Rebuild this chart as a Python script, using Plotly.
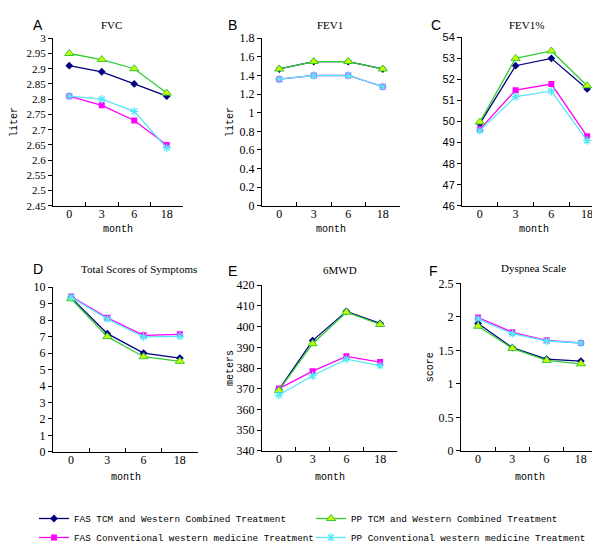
import plotly.graph_objects as go

months = ["0", "3", "6", "18"]

series_names = [
    "FAS TCM and Western Combined Treatment",
    "FAS Conventional western medicine Treatment",
    "PP TCM and Western Combined Treatment",
    "PP Conventional western medicine Treatment",
]

# Panel A: FVC (liter)
fvc_fas_tcm = [2.91, 2.89, 2.85, 2.81]
fvc_fas_conv = [2.81, 2.78, 2.73, 2.65]
fvc_pp_tcm = [2.95, 2.93, 2.90, 2.82]
fvc_pp_conv = [2.81, 2.80, 2.76, 2.64]

# Panel B: FEV1 (liter)
fev1_fas_tcm = [1.47, 1.55, 1.55, 1.47]
fev1_fas_conv = [1.36, 1.40, 1.40, 1.28]
fev1_pp_tcm = [1.47, 1.55, 1.55, 1.47]
fev1_pp_conv = [1.36, 1.40, 1.40, 1.28]

# Panel C: FEV1%
fev1p_fas_tcm = [49.9, 52.65, 53.0, 51.55]
fev1p_fas_conv = [49.63, 51.49, 51.78, 49.3]
fev1p_pp_tcm = [49.98, 53.0, 53.35, 51.7]
fev1p_pp_conv = [49.57, 51.18, 51.44, 49.1]

# Panel D: Total Scores of Symptoms
tss_fas_tcm = [9.37, 7.18, 6.0, 5.7]
tss_fas_conv = [9.43, 8.14, 7.08, 7.14]
tss_pp_tcm = [9.3, 7.0, 5.78, 5.5]
tss_pp_conv = [9.39, 8.08, 6.98, 7.02]

# Panel E: 6MWD (meters)
mwd_fas_tcm = [369.6, 393.3, 407.4, 401.6]
mwd_fas_conv = [370.1, 378.5, 385.7, 382.9]
mwd_pp_tcm = [369.2, 391.8, 407.0, 401.1]
mwd_pp_conv = [367.0, 376.3, 384.3, 381.2]

# Panel F: Dyspnea Scale (score)
dys_fas_tcm = [1.90, 1.54, 1.37, 1.34]
dys_fas_conv = [1.99, 1.77, 1.65, 1.61]
dys_pp_tcm = [1.86, 1.53, 1.35, 1.30]
dys_pp_conv = [1.97, 1.75, 1.64, 1.61]

panel_titles = ["FVC", "FEV1", "FEV1%", "Total Scores of Symptoms", "6MWD", "Dyspnea Scale"]
panel_letters = ["A", "B", "C", "D", "E", "F"]
y_titles = ["liter", "liter", "", "", "meters", "score"]
y_ranges = [(2.45, 3.0), (0, 1.8), (46, 54), (0, 10), (340, 420), (0, 2.5)]
y_dticks = [0.05, 0.2, 1, 1, 10, 0.5]

panel_data = [
    [fvc_fas_tcm, fvc_fas_conv, fvc_pp_tcm, fvc_pp_conv],
    [fev1_fas_tcm, fev1_fas_conv, fev1_pp_tcm, fev1_pp_conv],
    [fev1p_fas_tcm, fev1p_fas_conv, fev1p_pp_tcm, fev1p_pp_conv],
    [tss_fas_tcm, tss_fas_conv, tss_pp_tcm, tss_pp_conv],
    [mwd_fas_tcm, mwd_fas_conv, mwd_pp_tcm, mwd_pp_conv],
    [dys_fas_tcm, dys_fas_conv, dys_pp_tcm, dys_pp_conv],
]

W, H = 600, 544
# pixel boxes (x0, x1, ytop, ybottom)
boxes = [
    (45, 175, 24, 197),
    (254, 392, 24, 197),
    (454, 597, 23, 197),
    (45, 190, 281, 451),
    (254, 389, 279, 450),
    (453, 590, 277, 450),
]

styles = [
    dict(line=dict(color="#000080", width=1.3),
         marker=dict(symbol="diamond", size=6, color="#000080")),
    dict(line=dict(color="#FF00FF", width=1.3),
         marker=dict(symbol="square", size=6, color="#FF00FF")),
    dict(line=dict(color="#33CC33", width=1.3),
         marker=dict(symbol="triangle-up", size=8, color="#CCFF00",
                     line=dict(color="#33CC33", width=1))),
    dict(line=dict(color="#55E8F5", width=1.3),
         marker=dict(symbol="asterisk-open", size=7,
                     line=dict(color="#55E8F5", width=1.2))),
]
legend_ranks = [1, 3, 2, 4]

fig = go.Figure()
layout = dict(
    width=W, height=H,
    margin=dict(l=0, r=0, t=0, b=0),
    paper_bgcolor="white", plot_bgcolor="white",
    showlegend=True,
)
annotations = []

letter_pos = [(24, 1), (219, 1), (422, 1), (24, 253), (219, 255), (420, 255)]
title_pos = [(103, 10), (322, 10), (518, 10), (131, 262), (332, 263), (525, 261)]

for i in range(6):
    x0, x1, yt, yb = boxes[i]
    xa = "xaxis" if i == 0 else f"xaxis{i+1}"
    ya = "yaxis" if i == 0 else f"yaxis{i+1}"
    xref = "x" if i == 0 else f"x{i+1}"
    yref = "y" if i == 0 else f"y{i+1}"
    if i == 2:
        tickfont = dict(family="Liberation Sans", size=11, color="black")
    elif i == 0:
        tickfont = dict(family="Liberation Serif", size=11, color="black")
    else:
        tickfont = dict(family="Liberation Serif", size=12, color="black")
    layout[xa] = dict(
        domain=[x0 / W, x1 / W], anchor=yref, type="category",
        categoryorder="array", categoryarray=months, range=[-0.5, 3.5],
        showline=True, linecolor="black", linewidth=1, mirror=False,
        ticks="inside", ticklen=4, tickcolor="black", tickson="boundaries",
        showgrid=False, zeroline=False, ticklabelstandoff=-3,
        tickfont=dict(family="Liberation Serif", size=12, color="black"),
        fixedrange=True,
    )
    layout[ya] = dict(
        domain=[1 - yb / H, 1 - yt / H], anchor=xref,
        range=list(y_ranges[i]), dtick=y_dticks[i], tick0=y_ranges[i][0],
        showline=True, linecolor="black", linewidth=1,
        ticks="outside", ticklen=4, tickcolor="black",
        showgrid=False, zeroline=False, tickfont=tickfont,
        fixedrange=True,
    )
    for s in range(4):
        fig.add_trace(go.Scatter(
            x=months, y=panel_data[i][s], mode="lines+markers",
            name=series_names[s], showlegend=(i == 0),
            legendgroup=series_names[s], legendrank=legend_ranks[s],
            xaxis=xref, yaxis=yref, **styles[s],
        ))
    # panel letter
    lx, ly = letter_pos[i]
    annotations.append(dict(
        text=panel_letters[i], x=lx / W, y=1 - ly / H, xref="paper", yref="paper",
        xanchor="left", yanchor="top", showarrow=False, borderpad=0,
        font=dict(family="Liberation Sans", size=14, color="black")))
    # title
    tx, ty = title_pos[i]
    annotations.append(dict(
        text=panel_titles[i], x=tx / W, y=1 - ty / H, xref="paper", yref="paper",
        xanchor="center", yanchor="middle", showarrow=False,
        font=dict(family="Liberation Serif", size=11, color="black")))
    # x title
    mx = (x0 + x1) / 2
    my = 221 if i < 3 else 477
    annotations.append(dict(
        text="month", x=mx / W, y=1 - my / H, xref="paper", yref="paper",
        xanchor="center", yanchor="middle", showarrow=False,
        font=dict(family="Liberation Mono", size=10, color="black")))
    # y title
    if y_titles[i]:
        ytx = [6, 222, 0, 0, 222, 422][i]
        yty = (yt + yb) / 2
        annotations.append(dict(
            text=y_titles[i], x=ytx / W, y=1 - yty / H, xref="paper", yref="paper",
            xanchor="center", yanchor="middle", showarrow=False, textangle=-90,
            font=dict(family="Liberation Mono", size=10, color="black")))

layout["annotations"] = annotations
layout["legend"] = dict(
    orientation="h", x=26 / W, y=1 - 505 / H, xanchor="left", yanchor="top",
    entrywidth=232, entrywidthmode="pixels", traceorder="normal",
    font=dict(family="Liberation Mono", size=9.3, color="black"),
    bgcolor="rgba(0,0,0,0)", itemwidth=30, tracegroupgap=0,
)
fig.update_layout(**layout)
fig.write_html("out.html")
